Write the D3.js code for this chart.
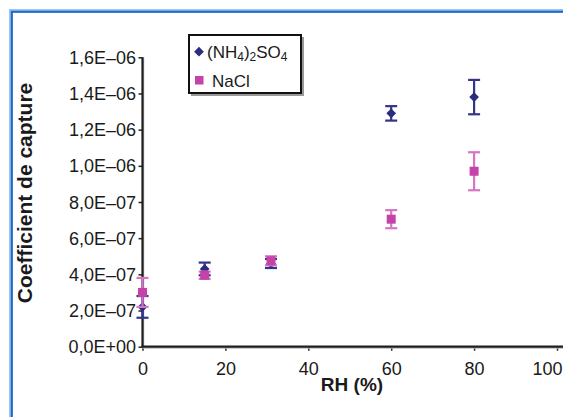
<!DOCTYPE html>
<html>
<head>
<meta charset="utf-8">
<script src="https://cdn.jsdelivr.net/npm/d3@7"></script>
<style>
  html, body { margin: 0; padding: 0; background: #fff; }
  svg { display: block; }
  text { font-family: "Liberation Sans", Arial, sans-serif; fill: #1a1a1a; }
</style>
</head>
<body>
<svg id="chart" width="563" height="417"></svg>
<script>
// ---- data ----
const rh = [0, 15, 31, 60, 80];
const nh4Values = [2.2e-7, 4.3e-7, 4.6e-7, 1.29e-6, 1.38e-6];
const nh4Errors = [0.6e-7, 0.35e-7, 0.25e-7, 0.4e-7, 0.95e-7];
const naclValues = [3.0e-7, 3.95e-7, 4.75e-7, 7.05e-7, 9.7e-7];
const naclErrors = [0.8e-7, 0.2e-7, 0.25e-7, 0.5e-7, 1.05e-7];
const xTicks = [0, 20, 40, 60, 80, 100];
const yTicks = [0, 2e-7, 4e-7, 6e-7, 8e-7, 1.0e-6, 1.2e-6, 1.4e-6, 1.6e-6];
const yTickLabels = ["0,0E+00", "2,0E–07", "4,0E–07", "6,0E–07", "8,0E–07",
                     "1,0E–06", "1,2E–06", "1,4E–06", "1,6E–06"];
const seriesNames = ["(NH4)2SO4", "NaCl"];

const W = 563, H = 417;
const svg = d3.select("#chart");

// frame
svg.append("path").attr("d", `M11,${H} V11 H${W}`)
  .attr("fill", "none").attr("stroke", "#9cc3ee").attr("stroke-width", 4);
svg.append("path").attr("d", `M11.8,${H} V11.8 H${W}`)
  .attr("fill", "none").attr("stroke", "#1c68cc").attr("stroke-width", 2);

const x = d3.scaleLinear().domain([0, 100]).range([142.5, 557]);
const y = d3.scaleLinear().domain([0, 1.6e-6]).range([346.7, 57.3]);

// axes
const xAxis = svg.append("g").attr("transform", `translate(0,${y(0)})`)
  .call(d3.axisBottom(x).tickValues(xTicks).tickSize(4).tickPadding(12).tickFormat(d3.format("d")));
xAxis.select(".domain").remove();
xAxis.selectAll(".tick line").attr("stroke", "#222").attr("stroke-width", 1.5);
xAxis.selectAll(".tick text").attr("font-size", 18).attr("fill", "#1a1a1a")
  .attr("font-family", "Liberation Sans, Arial, sans-serif");
xAxis.selectAll(".tick text").filter(d => d === 100)
  .attr("text-anchor", "end").attr("x", W - 1 - x(100));

const yAxis = svg.append("g").attr("transform", `translate(${x(0)},0)`)
  .call(d3.axisLeft(y).tickValues(yTicks).tickSize(4).tickPadding(2.5)
    .tickFormat((d, i) => yTickLabels[i]));
yAxis.select(".domain").remove();
yAxis.selectAll(".tick line").attr("stroke", "#222").attr("stroke-width", 1.5);
yAxis.selectAll(".tick text").attr("font-size", 18).attr("fill", "#1a1a1a")
  .attr("dy", "0.34em").attr("font-family", "Liberation Sans, Arial, sans-serif");

// axis lines (with slight shadow)
svg.append("line").attr("x1", x(0) + 1).attr("x2", x(0) + 1).attr("y1", y(1.6e-6)).attr("y2", y(0) + 1)
  .attr("stroke", "#bbb").attr("stroke-width", 1.5);
svg.append("line").attr("x1", x(0)).attr("x2", W).attr("y1", y(0) + 1.3).attr("y2", y(0) + 1.3)
  .attr("stroke", "#bbb").attr("stroke-width", 1.5);
svg.append("line").attr("x1", x(0)).attr("x2", x(0)).attr("y1", y(1.6e-6)).attr("y2", y(0))
  .attr("stroke", "#1e1e1e").attr("stroke-width", 2.2);
svg.append("line").attr("x1", x(0) - 1).attr("x2", W).attr("y1", y(0)).attr("y2", y(0))
  .attr("stroke", "#1e1e1e").attr("stroke-width", 2.2);

// axis titles
svg.append("text").attr("transform", `translate(32,193) rotate(-90)`)
  .attr("text-anchor", "middle").attr("font-size", 21).attr("font-weight", "bold")
  .text("Coefficient de capture");
svg.append("text").attr("x", 352).attr("y", 391).attr("text-anchor", "middle")
  .attr("font-size", 19).attr("font-weight", "bold").text("RH (%)");

// series
const navy = "#2b2b80", navyBar = "#34348a";
const pink = "#c542a9", pinkBar = "#d575c3";
const capW = 12;

function errorBars(vals, errs, color, width) {
  const g = svg.append("g").attr("stroke", color).attr("stroke-width", width).attr("fill", "none");
  rh.forEach((r, i) => {
    const cx = x(r), y1 = y(vals[i] + errs[i]), y2 = y(vals[i] - errs[i]);
    g.append("line").attr("x1", cx).attr("x2", cx).attr("y1", y1).attr("y2", y2);
    g.append("line").attr("x1", cx - capW / 2).attr("x2", cx + capW / 2).attr("y1", y1).attr("y2", y1);
    g.append("line").attr("x1", cx - capW / 2).attr("x2", cx + capW / 2).attr("y1", y2).attr("y2", y2);
  });
}

errorBars(nh4Values, nh4Errors, navyBar, 2.2);
svg.append("g").selectAll("path").data(rh).join("path")
  .attr("d", d3.symbol(d3.symbolDiamond2, 60)())
  .attr("transform", (r, i) => `translate(${x(r)},${y(nh4Values[i])})`)
  .attr("fill", navy);

errorBars(naclValues, naclErrors, pinkBar, 2.2);
svg.append("g").selectAll("rect").data(rh).join("rect")
  .attr("x", r => x(r) - 4.5).attr("y", (r, i) => y(naclValues[i]) - 4.5)
  .attr("width", 9).attr("height", 9).attr("fill", pink);

// legend
const lg = svg.append("g");
lg.append("rect").attr("x", 191).attr("y", 37).attr("width", 113).attr("height", 59)
  .attr("fill", "#999");
lg.append("rect").attr("x", 189).attr("y", 35).attr("width", 112).attr("height", 58)
  .attr("fill", "#fff").attr("stroke", "#111").attr("stroke-width", 2);
lg.append("path").attr("d", d3.symbol(d3.symbolDiamond2, 60)())
  .attr("transform", "translate(199,51.7)").attr("fill", navy);
lg.append("rect").attr("x", 195).attr("y", 76).attr("width", 8.5).attr("height", 8.5).attr("fill", pink);
const t1 = lg.append("text").attr("x", 207).attr("y", 58).attr("font-size", 17);
t1.append("tspan").text("(NH");
t1.append("tspan").attr("font-size", 12).attr("dy", 3).text("4");
t1.append("tspan").attr("dy", -3).text(")");
t1.append("tspan").attr("font-size", 12).attr("dy", 3).text("2");
t1.append("tspan").attr("dy", -3).text("SO");
t1.append("tspan").attr("font-size", 12).attr("dy", 3).text("4");
lg.append("text").attr("x", 212).attr("y", 86.5).attr("font-size", 17).text(seriesNames[1]);
</script>
</body>
</html>
